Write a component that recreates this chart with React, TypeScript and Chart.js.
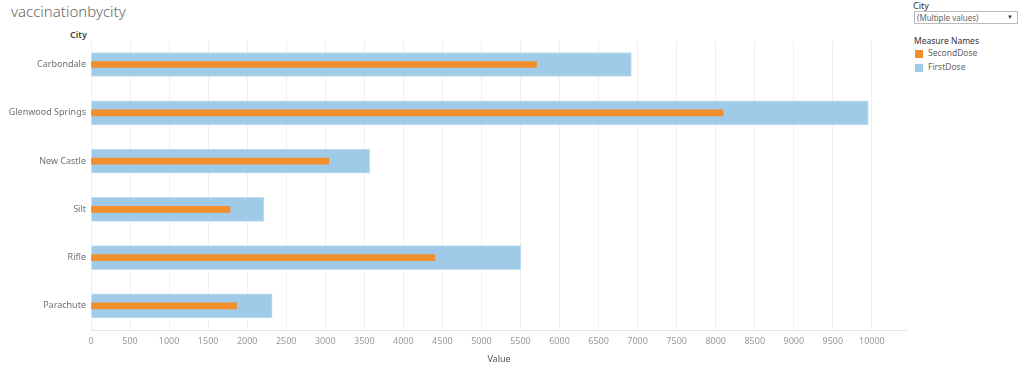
import React, { useEffect, useRef } from "react";
import { Chart, registerables } from "chart.js";

Chart.register(...registerables);

const cities = ["Carbondale", "Glenwood Springs", "New Castle", "Silt", "Rifle", "Parachute"];
const firstDose = [6920, 9955, 3570, 2215, 5505, 2320];
const secondDose = [5705, 8095, 3045, 1780, 4405, 1865];
const xTicks = [0, 500, 1000, 1500, 2000, 2500, 3000, 3500, 4000, 4500, 5000, 5500, 6000, 6500, 7000, 7500, 8000, 8500, 9000, 9500, 10000];

const FONT = "'Noto Sans', 'Open Sans', sans-serif";

export default function App() {
  const ref = useRef<HTMLCanvasElement | null>(null);

  useEffect(() => {
    document.body.style.margin = "0";
    if (!ref.current) return;
    const chart = new Chart(ref.current, {
      type: "bar",
      data: {
        labels: cities,
        datasets: [
          {
            label: "SecondDose",
            data: secondDose,
            backgroundColor: "#f28e2b",
            borderWidth: 0,
            barThickness: 6,
            grouped: false,
          } as any,
          {
            label: "FirstDose",
            data: firstDose,
            backgroundColor: "#a0cbe8",
            borderColor: "#c3dff1",
            borderWidth: 1,
            barThickness: 24,
            grouped: false,
          } as any,
        ],
      },
      options: {
        indexAxis: "y",
        animation: false,
        responsive: false,
        maintainAspectRatio: false,
        layout: { padding: { top: 0, right: 0, bottom: 0, left: 0 } },
        plugins: { legend: { display: false }, tooltip: { enabled: false }, title: { display: false } },
        scales: {
          x: {
            type: "linear",
            min: 0,
            max: 10450,
            afterBuildTicks: (scale: any) => {
              scale.ticks = xTicks.map((v) => ({ value: v }));
            },
            afterFit: (scale: any) => {
              scale.height = 38;
            },
            grid: { color: "#f0f0f0", drawTicks: false, lineWidth: 1 },
            border: { display: true, color: "#e4e4e4" },
            ticks: {
              padding: 6,
              color: "#999999",
              font: { family: FONT, size: 9 },
              maxRotation: 0,
              autoSkip: false,
              callback: (v: any) => String(v),
            },
            title: {
              display: true,
              text: "Value",
              color: "#555555",
              font: { family: FONT, size: 9 },
              padding: { top: 0, bottom: 3 },
            },
          },
          y: {
            afterFit: (scale: any) => {
              scale.width = 91;
            },
            grid: { display: false, drawTicks: false },
            border: { display: false },
            ticks: {
              padding: 5,
              color: "#707070",
              font: { family: FONT, size: 9 },
            },
          },
        },
      },
    });
    return () => chart.destroy();
  }, []);

  return (
    <div style={{ position: "absolute", left: 0, top: 0, width: 1024, height: 368, background: "#fff", fontFamily: FONT, overflow: "hidden" }}>
      <div style={{ position: "absolute", left: 11, top: 1, fontSize: 15, color: "#666", fontWeight: 300 }}>vaccinationbycity</div>
      <div style={{ position: "absolute", left: 70, top: 28, fontSize: 9, color: "#444", fontWeight: 600 }}>City</div>
      <canvas ref={ref} width={907} height={338} style={{ position: "absolute", left: 0, top: 30, width: 907, height: 338 }} />
      <div style={{ position: "absolute", left: 913, top: -1, fontSize: 9, color: "#333" }}>City</div>
      <div style={{ position: "absolute", left: 914, top: 11, width: 104, height: 13, border: "1px solid #bbb", fontSize: 8, color: "#666", lineHeight: "11px", boxSizing: "border-box" as any, paddingLeft: 2 }}>
        (Multiple values)
        <span style={{ position: "absolute", right: 4, top: 0, fontSize: 6, color: "#333" }}>▼</span>
      </div>
      <div style={{ position: "absolute", left: 914, top: 35, fontSize: 8.5, color: "#333" }}>Measure Names</div>
      <div style={{ position: "absolute", left: 915, top: 50, width: 8, height: 8, background: "#f28e2b" }} />
      <div style={{ position: "absolute", left: 928, top: 47, fontSize: 8.5, color: "#666" }}>SecondDose</div>
      <div style={{ position: "absolute", left: 915, top: 64, width: 8, height: 8, background: "#a0cbe8" }} />
      <div style={{ position: "absolute", left: 928, top: 61, fontSize: 8.5, color: "#666" }}>FirstDose</div>
    </div>
  );
}
